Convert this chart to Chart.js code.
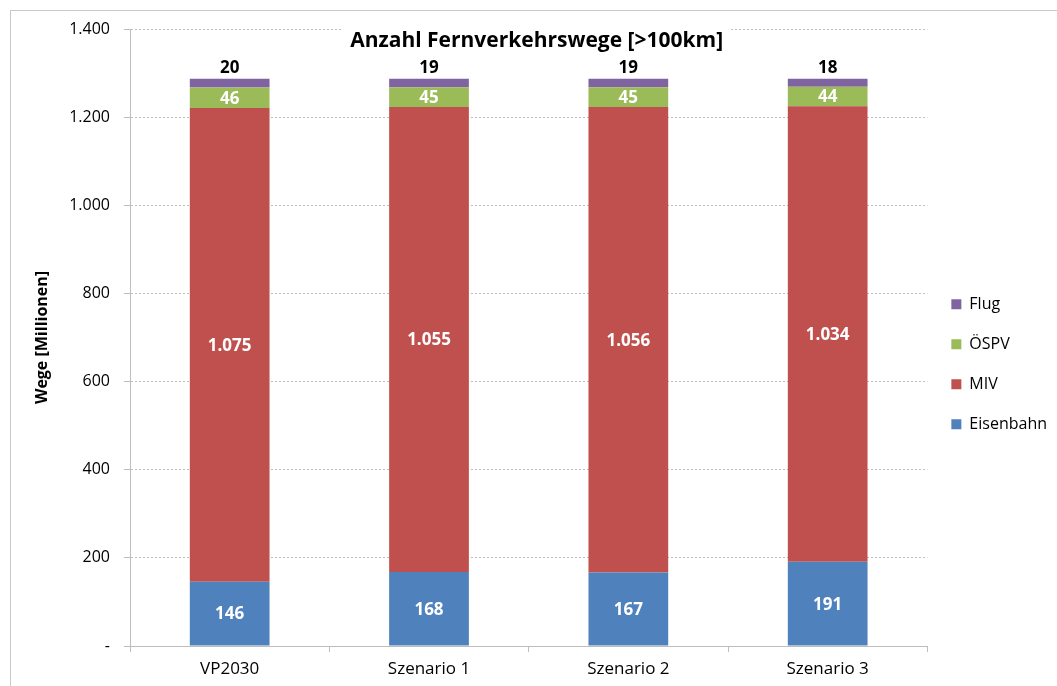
<!DOCTYPE html>
<html>
<head>
<meta charset="utf-8">
<script src="https://cdn.jsdelivr.net/npm/chart.js@4/dist/chart.umd.min.js"></script>
<style>
  body { margin: 0; background: #fff; }
  #frame {
    position: absolute; left: 10px; top: 10px;
    width: 1100px; height: 700px;
    border: 1px solid #c8c8c8; overflow: hidden;
  }
</style>
</head>
<body>
<div id="frame"><canvas id="wegeChart" width="1046" height="675"></canvas></div>
<script>
// Daten (Millionen Wege)
const szenarien = ["VP2030", "Szenario 1", "Szenario 2", "Szenario 3"];
const eisenbahn = [146, 168, 167, 191];
const miv = [1075, 1055, 1056, 1034];
const oespv = [46, 45, 45, 44];
const flug = [20, 19, 19, 18];

const fontFamily = "'Open Sans', 'Noto Sans', sans-serif";

function formatDe(v) {
    return String(Math.round(v)).replace(/\B(?=(\d{3})+(?!\d))/g, ".");
}

// Titel im Diagrammbereich (überdeckt die oberste Gitterlinie)
const innerTitle = {
    id: "innerTitle",
    afterDraw(chart) {
        const ctx = chart.ctx;
        const area = chart.chartArea;
        const text = "Anzahl Fernverkehrswege [>100km]";
        ctx.save();
        ctx.font = "bold 21px " + fontFamily;
        const w = ctx.measureText(text).width;
        const cx = (area.left + area.right) / 2 + 8;
        const cy = area.top + 12;
        ctx.fillStyle = "#fff";
        ctx.fillRect(cx - w / 2 - 8, cy - 15, w + 16, 28);
        ctx.fillStyle = "#000";
        ctx.textAlign = "center";
        ctx.textBaseline = "middle";
        ctx.fillText(text, cx, cy);
        ctx.restore();
    }
};

// Werte in bzw. über den Balken
const barLabels = {
    id: "barLabels",
    afterDatasetsDraw(chart) {
        const ctx = chart.ctx;
        ctx.save();
        ctx.font = "bold 17px " + fontFamily;
        ctx.textAlign = "center";
        ctx.textBaseline = "middle";
        chart.data.datasets.forEach((ds, di) => {
            const meta = chart.getDatasetMeta(di);
            meta.data.forEach((bar, i) => {
                const v = ds.data[i];
                if (di === 3) {
                    ctx.fillStyle = "#000";
                    ctx.fillText(formatDe(v), bar.x, bar.y - 11);
                } else {
                    ctx.fillStyle = "#fff";
                    ctx.fillText(formatDe(v), bar.x, (bar.y + bar.base) / 2 + 1);
                }
            });
        });
        ctx.restore();
    }
};

const ctx = document.getElementById("wegeChart").getContext("2d");
const wegeChart = new Chart(ctx, {
    type: "bar",
    data: {
        labels: szenarien,
        datasets: [
            { label: "Eisenbahn", data: eisenbahn, backgroundColor: "#4F81BD" },
            { label: "MIV", data: miv, backgroundColor: "#C0504D" },
            { label: "ÖSPV", data: oespv, backgroundColor: "#9BBB59" },
            { label: "Flug", data: flug, backgroundColor: "#8064A2" }
        ]
    },
    options: {
        responsive: false,
        animation: false,
        datasets: { bar: { categoryPercentage: 1, barPercentage: 0.4 } },
        layout: { padding: { left: 22, right: 0, top: 18, bottom: 2 } },
        scales: {
            x: {
                stacked: true,
                grid: { offset: true, drawOnChartArea: false, color: "#bdbdbd", tickLength: 6 },
                border: { color: "#bdbdbd" },
                ticks: { color: "#000", font: { family: fontFamily, size: 17 }, padding: 7 },
                afterFit: s => { s.height = 38; }
            },
            y: {
                stacked: true,
                min: 0,
                max: 1400,
                grid: { color: "#bdbdbd", tickLength: 6 },
                border: { color: "#bdbdbd", dash: [2, 2] },
                ticks: {
                    stepSize: 200,
                    color: "#000",
                    font: { family: fontFamily, size: 16 },
                    padding: 14,
                    callback: v => v === 0 ? "-" : formatDe(v)
                },
                title: {
                    display: true,
                    text: "Wege [Millionen]",
                    color: "#000",
                    font: { family: fontFamily, size: 16, weight: "bold" },
                    padding: { top: 0, bottom: 12 }
                },
                afterFit: s => { s.width = 97; s.paddingTop = 0; s.paddingBottom = 0; }
            }
        },
        plugins: {
            legend: {
                position: "right",
                reverse: true,
                title: { display: true, text: " ", font: { size: 13 }, padding: { top: 0, bottom: 0 } },
                labels: {
                    boxWidth: 10,
                    boxHeight: 10,
                    color: "#000",
                    padding: 24,
                    font: { family: fontFamily, size: 16 }
                }
            },
            tooltip: { enabled: false }
        }
    },
    plugins: [barLabels, innerTitle]
});
</script>
</body>
</html>
